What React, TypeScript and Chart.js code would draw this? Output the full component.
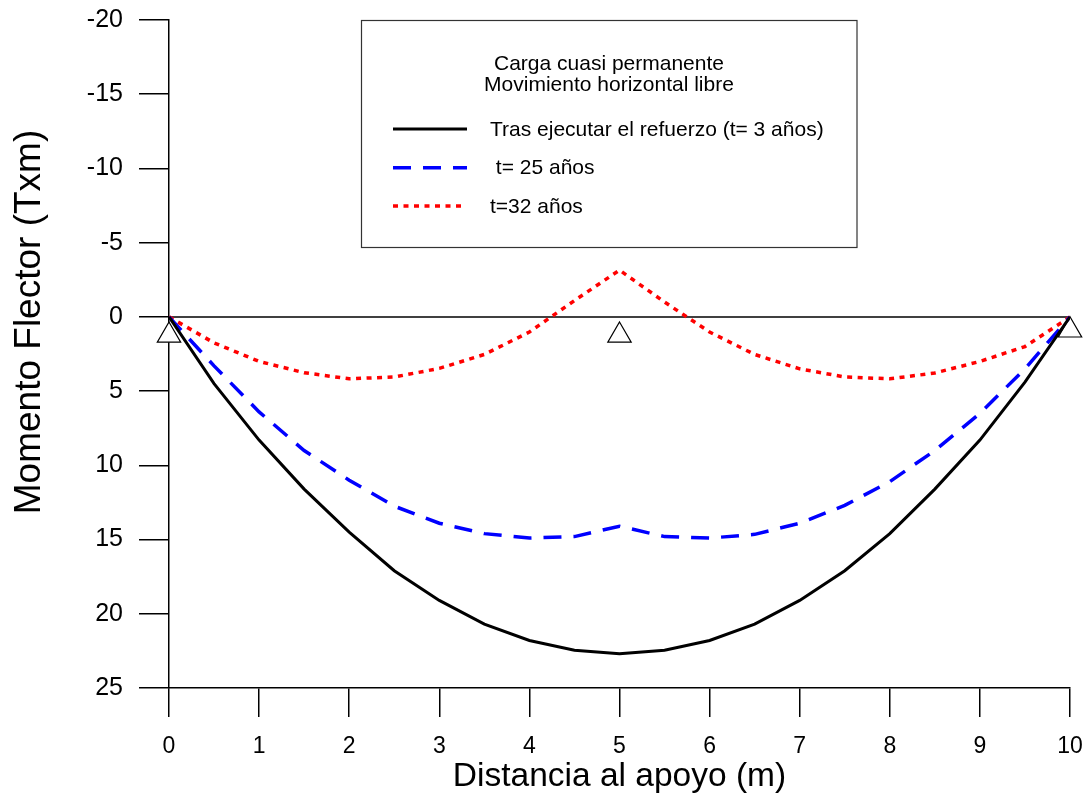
import React, { useEffect, useRef } from 'react';
import { Chart, registerables } from 'chart.js';

Chart.register(...registerables);

// ---- Data ----
const xPositions = [0, 0.5, 1, 1.5, 2, 2.5, 3, 3.5, 4, 4.5, 5, 5.5, 6, 6.5, 7, 7.5, 8, 8.5, 9, 9.5, 10];
const momentoRefuerzo = [0, 4.5, 8.3, 11.6, 14.5, 17.1, 19.1, 20.7, 21.8, 22.45, 22.7, 22.45, 21.8, 20.7, 19.1, 17.1, 14.6, 11.6, 8.3, 4.4, 0];
const momento25 = [0, 3.3, 6.4, 9.0, 11.0, 12.75, 13.9, 14.6, 14.9, 14.8, 14.1, 14.8, 14.9, 14.65, 13.9, 12.7, 11.1, 9.0, 6.5, 3.5, 0];
const momento32 = [0, 1.75, 3.0, 3.76, 4.17, 4.05, 3.47, 2.53, 1.02, -1.1, -3.15, -1.0, 1.02, 2.53, 3.5, 4.05, 4.17, 3.78, 3.0, 2.0, 0];
const apoyosX = [0, 5, 10];
const apoyosY = [1.25, 1.25, 0.9];
const ejeX = [0, 10];
const ejeY = [0, 0];
const legendTitle = ['Carga cuasi permanente', 'Movimiento horizontal libre'];
const seriesLabels = ['Tras ejecutar el refuerzo (t= 3 años)', ' t= 25 años', 't=32 años'];
const xTitle = 'Distancia al apoyo (m)';
const yTitle = 'Momento Flector (Txm)';

const FONT = '"Liberation Sans", Arial, Helvetica, sans-serif';

const toPoints = (xs: number[], ys: number[]) => xs.map((x, i) => ({ x, y: ys[i] }));

const legendPlugin = {
  id: 'boxLegend',
  afterDraw(chart: any) {
    const ctx = chart.ctx as CanvasRenderingContext2D;
    ctx.save();
    // Y axis title
    ctx.save();
    ctx.translate(29.5, 322);
    ctx.rotate(-Math.PI / 2);
    ctx.fillStyle = '#000000';
    ctx.font = `37px ${FONT}`;
    ctx.textAlign = 'center';
    ctx.textBaseline = 'middle';
    ctx.fillText(yTitle, 0, 0);
    ctx.restore();

    ctx.fillStyle = '#ffffff';
    ctx.fillRect(361.5, 20.5, 495.5, 227);
    ctx.strokeStyle = '#333333';
    ctx.lineWidth = 1.2;
    ctx.setLineDash([]);
    ctx.strokeRect(361.5, 20.5, 495.5, 227);

    ctx.fillStyle = '#000000';
    ctx.font = `21px ${FONT}`;
    ctx.textAlign = 'center';
    ctx.textBaseline = 'alphabetic';
    ctx.fillText(legendTitle[0], 609, 70);
    ctx.fillText(legendTitle[1], 609, 91);

    const rows = [129, 167.7, 206];
    ctx.textAlign = 'left';
    for (let i = 0; i < 3; i++) {
      const ds = chart.data.datasets[i];
      ctx.save();
      ctx.strokeStyle = ds.borderColor;
      ctx.lineWidth = ds.borderWidth;
      ctx.setLineDash(ds.borderDash || []);
      ctx.lineCap = 'butt';
      ctx.beginPath();
      ctx.moveTo(393, rows[i]);
      ctx.lineTo(i === 2 ? 464 : 467, rows[i]);
      ctx.stroke();
      ctx.restore();
      ctx.fillStyle = '#000000';
      ctx.font = `21px ${FONT}`;
      ctx.fillText(seriesLabels[i], 490, rows[i] + 6.7);
    }
    ctx.restore();
  },
};

export default function App() {
  const canvasRef = useRef<HTMLCanvasElement | null>(null);

  useEffect(() => {
    if (!canvasRef.current) return;
    const chart = new Chart(canvasRef.current, {
      type: 'line',
      data: {
        datasets: [
          {
            label: seriesLabels[0],
            data: toPoints(xPositions, momentoRefuerzo),
            borderColor: '#000000',
            borderWidth: 3,
            pointRadius: 0,
            tension: 0,
            fill: false,
          },
          {
            label: seriesLabels[1],
            data: toPoints(xPositions, momento25),
            borderColor: '#0000ff',
            borderWidth: 3.5,
            borderDash: [18, 12],
            pointRadius: 0,
            tension: 0,
            fill: false,
          },
          {
            label: seriesLabels[2],
            data: toPoints(xPositions, momento32),
            borderColor: '#ff0000',
            borderWidth: 3.5,
            borderDash: [5, 5.5],
            pointRadius: 0,
            tension: 0,
            fill: false,
          },
          {
            label: 'eje',
            data: toPoints(ejeX, ejeY),
            borderColor: '#000000',
            borderWidth: 1.5,
            pointRadius: 0,
            fill: false,
          },
          {
            label: 'apoyos',
            data: toPoints(apoyosX, apoyosY),
            showLine: false,
            pointStyle: 'triangle',
            pointRadius: 13.5,
            pointBackgroundColor: '#ffffff',
            pointBorderColor: '#000000',
            pointBorderWidth: 1.2,
            clip: false,
          } as any,
        ],
      },
      options: {
        responsive: false,
        animation: false,
        devicePixelRatio: 1,
        layout: { padding: { left: 0, right: 22, top: 20, bottom: 0 } },
        plugins: {
          legend: { display: false },
          tooltip: { enabled: false },
        },
        scales: {
          x: {
            type: 'linear',
            min: 0,
            max: 10,
            ticks: {
              stepSize: 1,
              color: '#000000',
              padding: 16,
              font: { family: FONT, size: 23 },
            },
            grid: {
              drawOnChartArea: false,
              drawTicks: true,
              tickLength: 29,
              color: '#000000',
              lineWidth: 1.5,
            },
            border: { display: true, color: '#000000', width: 1.5 },
            title: {
              display: true,
              text: xTitle,
              color: '#000000',
              font: { family: FONT, size: 33.5 },
              padding: { top: 0, bottom: 3.5 },
            },
            afterFit: (scale: any) => {
              scale.height = 112;
              scale.paddingLeft = 0;
              scale.paddingRight = 0;
            },
          },
          y: {
            type: 'linear',
            reverse: true,
            min: -20,
            max: 25,
            ticks: {
              stepSize: 5,
              color: '#000000',
              padding: 16,
              font: { family: FONT, size: 25 },
            },
            grid: {
              drawOnChartArea: false,
              drawTicks: true,
              tickLength: 30,
              color: '#000000',
              lineWidth: 1.5,
            },
            border: { display: true, color: '#000000', width: 1.5 },
            afterFit: (scale: any) => {
              scale.width = 169;
              scale.paddingTop = 0;
              scale.paddingBottom = 0;
            },
          },
        },
      },
      plugins: [legendPlugin],
    });
    return () => chart.destroy();
  }, []);

  return (
    <div style={{ position: 'absolute', left: 0, top: 0, width: 1092, height: 800, background: '#ffffff' }}>
      <canvas ref={canvasRef} width={1092} height={800} style={{ display: 'block' }} />
    </div>
  );
}
